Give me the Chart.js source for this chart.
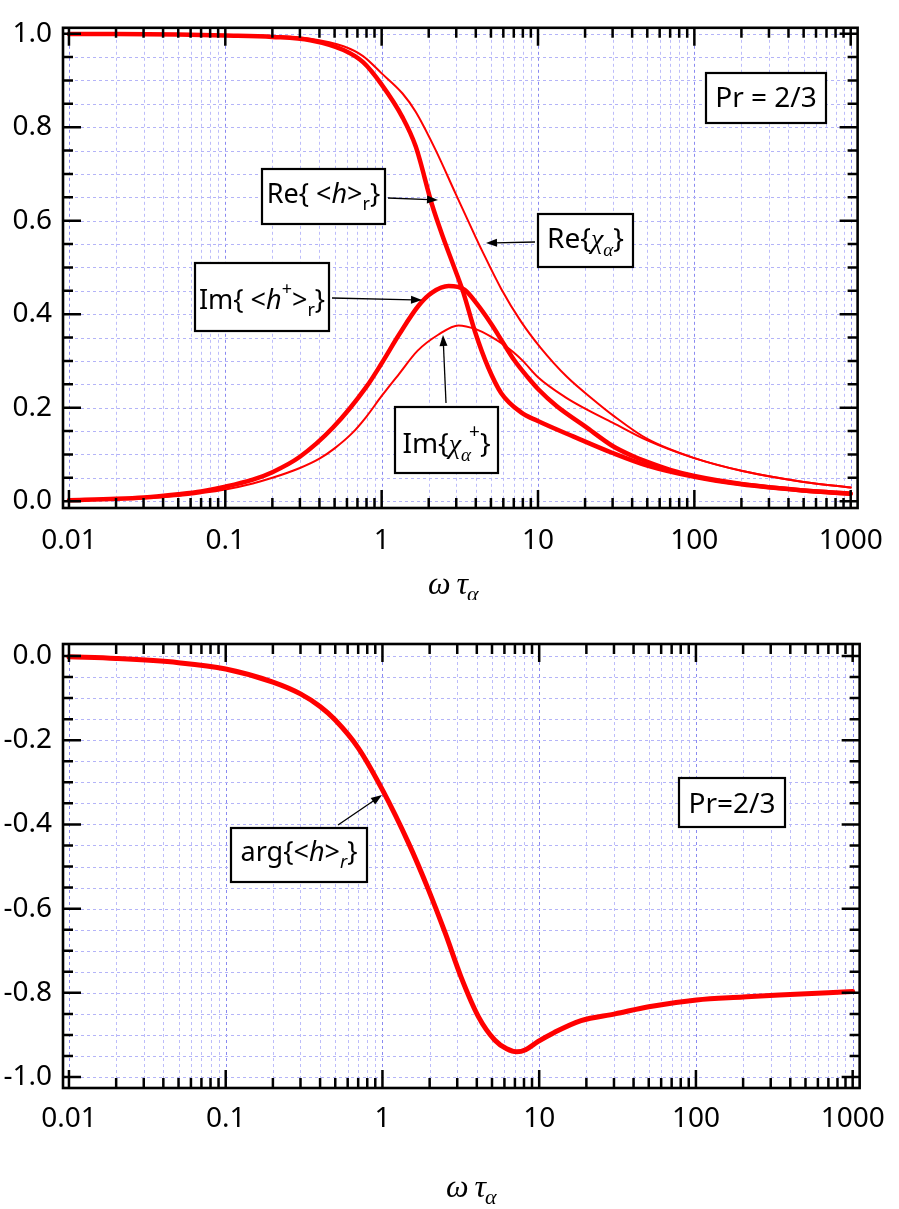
<!DOCTYPE html>
<html><head><meta charset="utf-8">
<script src="https://cdn.jsdelivr.net/npm/chart.js@4.4.1/dist/chart.umd.min.js"></script>
<style>
html,body{margin:0;padding:0;background:#ffffff;overflow:hidden;width:899px;height:1209px;}
canvas{position:absolute;left:0;display:block;}
#c1{top:0;} #c2{top:600px;}
</style></head><body>
<canvas id="c1" width="899" height="600"></canvas>
<canvas id="c2" width="899" height="609"></canvas>
<script>
// ---------------- DATA ----------------
// top panel: Re{<h>r} (thick)
const reHX = [0.01,0.02,0.05,0.1,0.2,0.35,0.57,0.76,1.0,1.36,1.65,2.1,2.43,2.95,3.33,3.95,4.79,5.82,7.79,9.9,16.9,30,50,100,200,500,1000];
const reHY = [0.999,0.999,0.998,0.996,0.993,0.986,0.965,0.939,0.891,0.821,0.759,0.634,0.571,0.495,0.446,0.363,0.287,0.231,0.190,0.172,0.138,0.103,0.076,0.052,0.036,0.023,0.016];
// top panel: Re{chi_alpha} (thin)
const reChiX = [0.01,0.1,0.2,0.35,0.57,0.76,1.0,1.36,1.65,2.2,2.95,3.95,4.37,5.82,7.79,10.4,15.3,22.6,30.3,50,100,200,500,1000];
const reChiY = [0.999,0.997,0.995,0.989,0.973,0.952,0.915,0.872,0.833,0.753,0.660,0.568,0.537,0.454,0.384,0.328,0.266,0.217,0.183,0.133,0.092,0.065,0.041,0.029];
// top panel: Im{<h+>r} (thick)
const imHX = [0.01,0.02,0.03,0.05,0.07,0.1,0.15,0.2,0.3,0.49,0.8,1.0,1.29,1.73,2.1,2.68,3.4,4.0,5.0,6.0,7.0,8.6,10,13.2,20,30,40,50,70,100,200,500,1000];
const imHY = [0.002,0.005,0.008,0.015,0.021,0.031,0.046,0.062,0.095,0.158,0.245,0.295,0.356,0.419,0.446,0.460,0.452,0.425,0.380,0.338,0.303,0.265,0.240,0.203,0.160,0.118,0.097,0.084,0.067,0.054,0.037,0.023,0.016];
// top panel: Im{chi_alpha+} (thin)
const imChiX = [0.01,0.02,0.03,0.05,0.07,0.1,0.15,0.2,0.3,0.4,0.5,0.65,0.8,1.0,1.29,1.7,2.3,3.1,4.0,5.0,6.0,7.0,8.0,10,15,20,30,50,100,200,500,1000];
const imChiY = [0.001,0.004,0.006,0.011,0.017,0.025,0.038,0.050,0.071,0.091,0.113,0.146,0.181,0.225,0.272,0.322,0.356,0.376,0.368,0.352,0.335,0.318,0.300,0.265,0.222,0.198,0.168,0.130,0.092,0.065,0.041,0.029];
// bottom panel: arg{<h>r}
const argX = [0.01,0.02,0.05,0.1,0.2,0.3,0.4,0.5,0.7,1.0,1.47,1.97,2.52,3.17,4.1,5.2,6.2,7.2,8.2,9.8,12.5,18.5,30.5,50,101,200,340,1000];
const argY = [-0.002,-0.006,-0.016,-0.031,-0.062,-0.090,-0.120,-0.152,-0.218,-0.318,-0.445,-0.556,-0.659,-0.762,-0.857,-0.912,-0.933,-0.940,-0.935,-0.916,-0.894,-0.866,-0.850,-0.833,-0.817,-0.810,-0.805,-0.797];

// tick labels
const xMajorValues = [0.01,0.1,1,10,100,1000];
const xMajorLabels = ['0.01','0.1','1','10','100','1000'];
const yTopLabelValues = [0,0.2,0.4,0.6,0.8,1.0];
const yTopLabels = ['0.0','0.2','0.4','0.6','0.8','1.0'];
const yBotLabelValues = [0,-0.2,-0.4,-0.6,-0.8,-1.0];
const yBotLabels = ['0.0','-0.2','-0.4','-0.6','-0.8','-1.0'];

// ---------------- STYLE ----------------
const SANS = "'Noto Sans', 'DejaVu Sans', sans-serif";
const SERIF = "'Liberation Serif', 'DejaVu Serif', serif";
const RED = '#ff0000';

function pts(xs, ys){ return xs.map((x,i)=>({x:x, y:ys[i]})); }
function isXMajor(v){ return xMajorValues.some(u=>Math.abs(v/u-1)<1e-9); }
function xAllTicks(){
  const out=[];
  for(let i=0;i<xMajorValues.length;i++){
    for(let m=1;m<=9;m++){
      if(i===xMajorValues.length-1 && m>1) break;
      out.push(+(xMajorValues[i]*m).toPrecision(6));
    }
  }
  return out;
}
function yAllTicks(from, to){ const out=[]; for(let k=from;k<=to;k++){ out.push(+(k*0.05).toFixed(4)); } return out; }

function xScale(min,max,h,pad){
  return { type:'logarithmic', min:min, max:max, position:'bottom',
    afterBuildTicks: s => { s.ticks = xAllTicks().map(v=>({value:v})); },
    afterFit: s => { s.height = h; },
    grid:{display:false, drawTicks:false}, border:{display:false},
    ticks:{ autoSkip:false, maxRotation:0, minRotation:0, padding:pad, color:'#000',
      font:{family:SANS, size:28},
      callback: v => { const j = xMajorValues.findIndex(u=>Math.abs(v/u-1)<1e-9); return j>=0 ? xMajorLabels[j] : ''; } }
  };
}
function yScale(min,max,all,labelVals,labels,w){
  return { type:'linear', min:min, max:max, position:'left',
    afterBuildTicks: s => { s.ticks = all.map(v=>({value:v})); },
    afterFit: s => { s.width = w; },
    grid:{display:false, drawTicks:false}, border:{display:false},
    ticks:{ autoSkip:false, padding:11, color:'#000', font:{family:SANS, size:28},
      callback: v => { const j = labelVals.findIndex(u=>Math.abs(u-v)<1e-6); return j>=0 ? labels[j] : ''; } }
  };
}

function drawRuns(ctx, cx, baseline, runs, size){
  const items = runs.map(r=>{
    const sz = (r.sub||r.sup) ? Math.round(size*0.68) : size;
    const font = (r.it?'italic ':'') + sz + 'px ' + (r.serif?SERIF:SANS);
    ctx.font = font;
    const w = ctx.measureText(r.t).width;
    return {t:r.t, font:font, w:w, dy: r.sub ? size*0.27 : (r.sup ? -size*0.52 : 0), dx:r.dx||0};
  });
  let total = items.reduce((a,b)=>a+b.w+b.dx,0);
  let x = cx - total/2;
  ctx.fillStyle = '#000';
  ctx.textBaseline = 'alphabetic';
  ctx.textAlign = 'left';
  items.forEach(it=>{ x += it.dx; ctx.font = it.font; ctx.fillText(it.t, x, baseline+it.dy); x += it.w; });
}
function arrow(ctx, x1,y1,x2,y2){
  const ang = Math.atan2(y2-y1, x2-x1), L=11, W=4;
  ctx.save();
  ctx.strokeStyle='#000'; ctx.fillStyle='#000'; ctx.lineWidth=1.3; ctx.setLineDash([]);
  ctx.beginPath(); ctx.moveTo(x1,y1); ctx.lineTo(x2-Math.cos(ang)*L*0.8, y2-Math.sin(ang)*L*0.8); ctx.stroke();
  ctx.beginPath();
  ctx.moveTo(x2,y2);
  ctx.lineTo(x2-L*Math.cos(ang)+W*Math.sin(ang), y2-L*Math.sin(ang)-W*Math.cos(ang));
  ctx.lineTo(x2-L*Math.cos(ang)-W*Math.sin(ang), y2-L*Math.sin(ang)+W*Math.cos(ang));
  ctx.closePath(); ctx.fill();
  ctx.restore();
}

const decoPlugin = {
  id:'deco',
  beforeDatasetsDraw(chart){
    const {ctx, chartArea:a} = chart; const x = chart.scales.x, y = chart.scales.y;
    ctx.save();
    ctx.lineWidth = 1; ctx.setLineDash([3,3]);
    x.ticks.forEach(t=>{
      const px = Math.round(x.getPixelForValue(t.value))+0.5;
      ctx.strokeStyle = isXMajor(t.value) ? '#8a8af0' : '#bcbcfa';
      ctx.beginPath(); ctx.moveTo(px,a.top); ctx.lineTo(px,a.bottom); ctx.stroke();
    });
    y.ticks.forEach(t=>{
      const py = Math.round(y.getPixelForValue(t.value))+0.5;
      ctx.strokeStyle = '#b4b4f8';
      ctx.beginPath(); ctx.moveTo(a.left,py); ctx.lineTo(a.right,py); ctx.stroke();
    });
    ctx.restore();
  },
  afterDatasetsDraw(chart, args, opts){
    const {ctx, chartArea:a} = chart; const x = chart.scales.x, y = chart.scales.y;
    ctx.save();
    ctx.setLineDash([]);
    ctx.strokeStyle = '#000'; ctx.lineWidth = 2.5;
    x.ticks.forEach(t=>{
      const px = x.getPixelForValue(t.value);
      const L = isXMajor(t.value) ? 18 : 10;
      ctx.beginPath();
      ctx.moveTo(px,a.bottom); ctx.lineTo(px,a.bottom-L);
      ctx.moveTo(px,a.top); ctx.lineTo(px,a.top+L);
      ctx.stroke();
    });
    y.ticks.forEach(t=>{
      const py = y.getPixelForValue(t.value);
      const maj = Math.abs(Math.round(t.value*5)-t.value*5)<1e-6;
      const L = maj ? 18 : 10;
      ctx.beginPath();
      ctx.moveTo(a.left,py); ctx.lineTo(a.left+L,py);
      ctx.moveTo(a.right,py); ctx.lineTo(a.right-L,py);
      ctx.stroke();
    });
    ctx.lineWidth = 2.6;
    ctx.strokeRect(a.left, a.top, a.right-a.left, a.bottom-a.top);
    (opts.annots||[]).forEach(an=>{
      const [x1,y1,x2,y2] = an.box;
      ctx.fillStyle='#fff'; ctx.fillRect(x1,y1,x2-x1,y2-y1);
      ctx.strokeStyle='#000'; ctx.lineWidth=2.2; ctx.strokeRect(x1,y1,x2-x1,y2-y1);
      drawRuns(ctx, (x1+x2)/2 + (an.dx||0), an.base, an.runs, an.size||28);
      if(an.arrow) arrow(ctx, an.arrow[0], an.arrow[1], an.arrow[2], an.arrow[3]);
    });
    if(opts.title){
      const tt = opts.title;
      ctx.fillStyle='#000'; ctx.textBaseline='alphabetic'; ctx.textAlign='left';
      ctx.font = 'italic 32px ' + SERIF;
      ctx.fillText('\u03C9', tt.x, tt.base);
      const w1 = ctx.measureText('\u03C9').width;
      ctx.fillText('\u03C4', tt.x + w1 + 6, tt.base);
      const w2 = ctx.measureText('\u03C4').width;
      ctx.font = 'italic 22px ' + SERIF;
      ctx.fillText('\u03B1', tt.x + w1 + 6 + w2 - 1, tt.base + 7);
    }
    ctx.restore();
  }
};

function lineDs(xs, ys, w){
  return { data: pts(xs,ys), borderColor:RED, backgroundColor:RED, borderWidth:w, pointRadius:0,
    cubicInterpolationMode:'monotone', fill:false, borderCapStyle:'round', borderJoinStyle:'round' };
}

const common = { responsive:false, animation:false, devicePixelRatio:1, events:[] };

// ---------------- TOP CHART ----------------
new Chart(document.getElementById('c1'), {
  type:'line',
  data:{ datasets:[ lineDs(reChiX,reChiY,2), lineDs(imChiX,imChiY,2), lineDs(reHX,reHY,4.5), lineDs(imHX,imHY,4.5) ] },
  options: Object.assign({}, common, {
    layout:{ padding:{ top:15, right:30, left:0, bottom:0 } },
    scales:{
      x: xScale(0.00916, 1107, 92, 16),
      y: yScale(-0.0146, 1.0125, yAllTicks(0,20), yTopLabelValues, yTopLabels, 63)
    },
    plugins:{ legend:{display:false}, tooltip:{enabled:false},
      deco:{
        title:{ x:428, base:594 },
        annots:[
          { box:[706,73,826,123], base:107, runs:[{t:'Pr = 2/3'}] },
          { box:[262,169,385,224], base:203, runs:[{t:'Re{ <'},{t:'h',it:true},{t:'>'},{t:'r',sub:true},{t:'}'}], size:27, arrow:[388,198,438,200] },
          { box:[195,263,329,331], base:309, runs:[{t:'Im{ <'},{t:'h',it:true},{t:'+',sup:true},{t:'>'},{t:'r',sub:true},{t:'}'}], size:27, arrow:[332,298,422,300] },
          { box:[538,214,633,267], base:248, runs:[{t:'Re{'},{t:'\u03C7',it:true,serif:true},{t:'\u03B1',it:true,serif:true,sub:true},{t:'}'}], arrow:[535,242,486,243] },
          { box:[395,407,498,473], base:453, runs:[{t:'Im{'},{t:'\u03C7',it:true,serif:true},{t:'\u03B1',it:true,serif:true,sub:true},{t:'+',sup:true,dx:-2},{t:'}'}], arrow:[446,403,443,335] }
        ]
      }
    }
  }),
  plugins:[decoPlugin]
});

// ---------------- BOTTOM CHART ----------------
new Chart(document.getElementById('c2'), {
  type:'line',
  data:{ datasets:[ lineDs(argX,argY,5) ] },
  options: Object.assign({}, common, {
    layout:{ padding:{ top:44, right:34, left:0, bottom:0 } },
    scales:{
      x: xScale(0.00916, 1108, 121, 14),
      y: yScale(-1.026, 0.0285, yAllTicks(-20,0), yBotLabelValues, yBotLabels, 63)
    },
    plugins:{ legend:{display:false}, tooltip:{enabled:false},
      deco:{
        title:{ x:446, base:597 },
        annots:[
          { box:[679,178,785,227], base:213, runs:[{t:'Pr=2/3'}] },
          { box:[231,228,367,282], base:261, runs:[{t:'arg{<'},{t:'h',it:true},{t:'>'},{t:'r',it:true,sub:true},{t:'}'}], size:27, arrow:[338,225,382,195] }
        ]
      }
    }
  }),
  plugins:[decoPlugin]
});
</script></body></html>
